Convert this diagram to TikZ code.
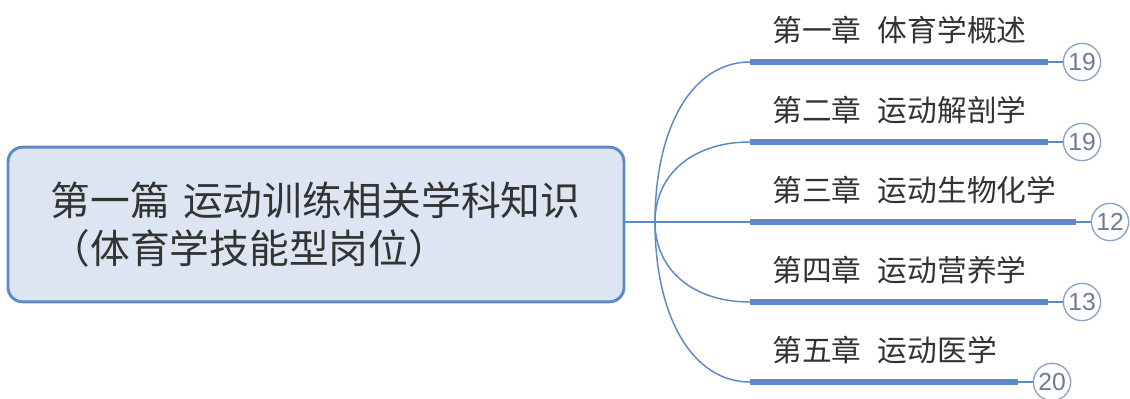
\documentclass[tikz,border=0pt]{standalone}
\usepackage{fontspec}
\setmainfont{Noto Sans CJK SC}
\newfontfamily\numfont{Liberation Sans}
\definecolor{linkblue}{HTML}{5B8AC6}
\definecolor{boxfill}{HTML}{DCE5F1}
\definecolor{txtgray}{HTML}{333333}
\definecolor{circgray}{HTML}{8AA2C4}
\definecolor{numgray}{HTML}{6E7C90}
\tikzset{
  rootbox/.style={draw=linkblue, line width=2.2pt, fill=boxfill, rounded corners=11pt,
    minimum width=462pt, minimum height=116pt, inner sep=0pt,
    font=\fontsize{29.8}{36}\selectfont, text=txtgray, align=left, text width=398pt},
  chaplabel/.style={anchor=west, inner sep=0pt, font=\fontsize{22.3}{26}\selectfont, text=txtgray},
  thin link/.style={draw=linkblue, line width=1.1pt},
  thick link/.style={draw=linkblue, line width=3.8pt},
  countcirc/.style={circle, draw=circgray, line width=1pt, minimum size=28pt, inner sep=0pt,
    font=\numfont\fontsize{18.5}{18.5}\selectfont, text=numgray},
}
\begin{document}
\begin{tikzpicture}[x=0.75pt, y=-0.75pt]
\useasboundingbox (0,0) rectangle (1130,399);
\fill[white] (0,0) rectangle (1130,399);

\node[rootbox] (root) at (316,224.5) {第一篇 运动训练相关学科知识\\（体育学技能型岗位）};

\coordinate (hub) at (655,222);
\coordinate (a1) at (750,62);
\coordinate (a2) at (750,142);
\coordinate (a3) at (750,222);
\coordinate (a4) at (750,302);
\coordinate (a5) at (750,382);
\coordinate (b1) at (1048,62);
\coordinate (b2) at (1048,142);
\coordinate (b3) at (1076,222);
\coordinate (b4) at (1048,302);
\coordinate (b5) at (1018,382);

\node[countcirc] (n1) at (1082,62) {19};
\node[countcirc] (n2) at (1082,142) {19};
\node[countcirc] (n3) at (1110,222) {12};
\node[countcirc] (n4) at (1082,302) {13};
\node[countcirc] (n5) at (1052,382) {20};

\node[chaplabel] (t1) at (772,30) {第一章\hspace{0.55em}体育学概述};
\node[chaplabel] (t2) at (772,110) {第二章\hspace{0.55em}运动解剖学};
\node[chaplabel] (t3) at (772,190) {第三章\hspace{0.55em}运动生物化学};
\node[chaplabel] (t4) at (772,270) {第四章\hspace{0.55em}运动营养学};
\node[chaplabel] (t5) at (772,350) {第五章\hspace{0.55em}运动医学};

\draw[thin link] (root.east |- hub) -- (a3);
\draw[thin link] (hub) .. controls (655,126) and (693,62) .. (a1);
\draw[thin link] (hub) .. controls (655,174) and (693,142) .. (a2);
\draw[thin link] (hub) .. controls (655,270) and (693,302) .. (a4);
\draw[thin link] (hub) .. controls (655,318) and (693,382) .. (a5);

\foreach \i in {1,...,5} {
  \draw[thick link] (a\i) -- (b\i);
  \draw[thin link] (b\i) -- (n\i.west);
}
\end{tikzpicture}
\end{document}
